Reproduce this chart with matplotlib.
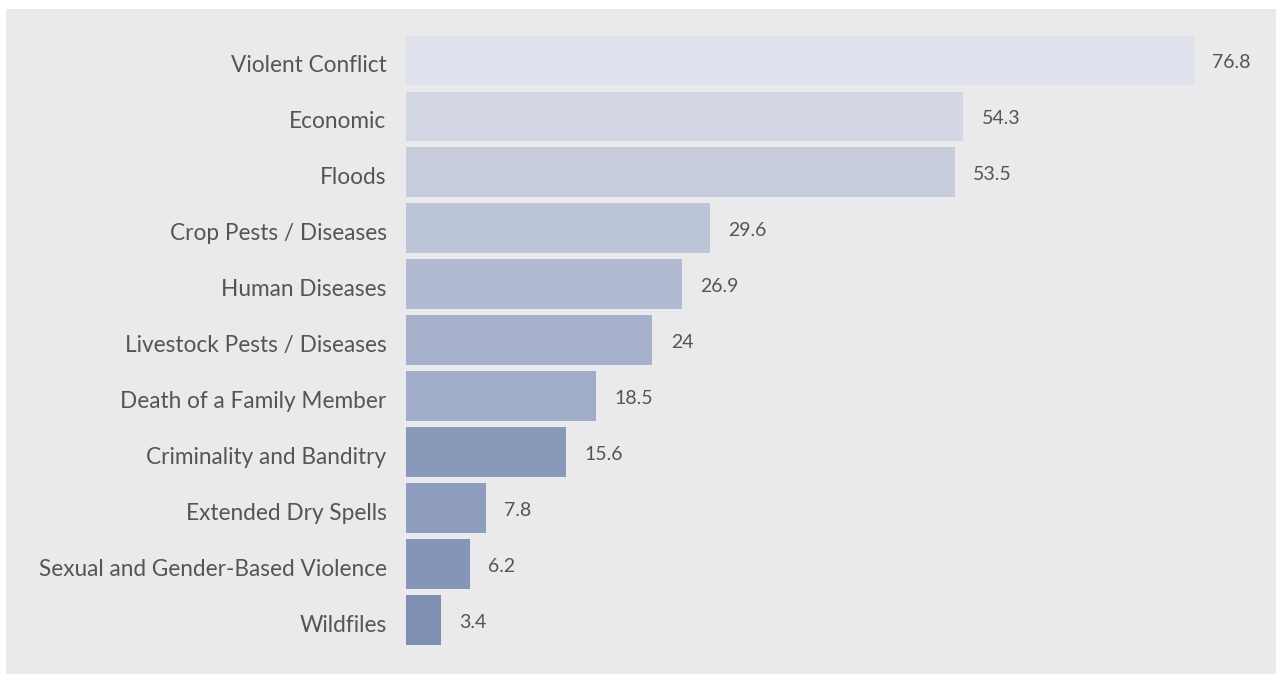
import matplotlib
matplotlib.use("Agg")
import matplotlib.pyplot as plt
from matplotlib.patches import Rectangle
from matplotlib.transforms import ScaledTranslation

categories = ["Violent Conflict", "Economic", "Floods", "Crop Pests / Diseases",
              "Human Diseases", "Livestock Pests / Diseases", "Death of a Family Member",
              "Criminality and Banditry", "Extended Dry Spells",
              "Sexual and Gender-Based Violence", "Wildfiles"]
values = [76.8, 54.3, 53.5, 29.6, 26.9, 24, 18.5, 15.6, 7.8, 6.2, 3.4]
value_labels = ["76.8", "54.3", "53.5", "29.6", "26.9", "24", "18.5", "15.6", "7.8", "6.2", "3.4"]
colors = ["#DFE1EC", "#D3D7E4", "#C7CCDC", "#BCC4D8", "#B1B9D3", "#A8B1CC",
          "#A1ACC8", "#8899B9", "#8E9DBE", "#8595B7", "#7F8FB1"]

bg = "#EAEAED"
txt = "#555555"
plt.rcParams['font.family'] = ['Lato', 'DejaVu Sans']

W, H = 1276, 675
fig = plt.figure(figsize=(W / 100, H / 100), dpi=100)
# grey panel behind the chart
fig.patches.append(Rectangle((6 / W, 1 - 674 / H), 1 - 6 / W, (674 - 9) / H,
                             transform=fig.transFigure, facecolor=bg, edgecolor="none", zorder=-10))

ax = fig.add_axes([406 / W, 1 - 674 / H, 1 - 406 / W, (674 - 9) / H])
ax.set_facecolor("none")
pos = list(range(len(categories)))
ax.barh(pos, values, height=0.89, color=colors)
ax.set_xlim(0, 870 / 10.26)
ax.set_ylim(len(categories) - 1 + 0.965, -0.92)
ax.set_yticks(pos)
ax.set_yticklabels(categories, fontsize=16.3, color=txt)
ax.tick_params(axis="y", length=0, pad=14)
ax.set_xticks([])
for s in ax.spines.values():
    s.set_visible(False)

shift = ScaledTranslation(0, -3 / 100, fig.dpi_scale_trans)
for lbl in ax.get_yticklabels():
    lbl.set_transform(lbl.get_transform() + shift)

for p, v, lab in zip(pos, values, value_labels):
    ax.text(v + 1.8, p, lab, va="center", ha="left", fontsize=14, color=txt,
            transform=ax.transData + ScaledTranslation(0, -2 / 100, fig.dpi_scale_trans))

fig.savefig("out.png", dpi=100, facecolor="white")
